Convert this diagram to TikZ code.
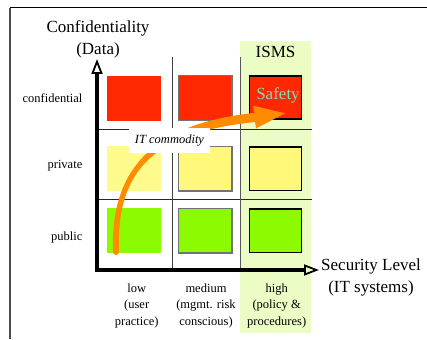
\documentclass[tikz,border=0pt]{standalone}
\usepackage{fontspec}
\setmainfont{Liberation Serif}
\usetikzlibrary{arrows.meta}

\definecolor{cellred}{RGB}{255,40,0}
\definecolor{cellyellowA}{RGB}{255,250,140}
\definecolor{cellyellow}{RGB}{255,248,122}
\definecolor{cellgreen}{RGB}{140,250,0}
\definecolor{ismsbg}{RGB}{235,252,196}
\definecolor{flow}{RGB}{255,140,0}
\definecolor{safetytxt}{RGB}{125,222,190}

\begin{document}
\begin{tikzpicture}[x=1pt,y=-1pt,
  bigtxt/.style={font=\fontsize{17}{22}\selectfont, inner sep=0pt, align=center},
  smalltxt/.style={font=\fontsize{12.5}{16.5}\selectfont, inner sep=0pt, align=center},
  rowlabel/.style={font=\fontsize{12.5}{15}\selectfont, inner sep=0pt, anchor=base east},
  cellA/.style={inner sep=0pt, minimum width=54pt, minimum height=45pt},
  cellB/.style={cellA, draw=black!55, line width=1.3pt, minimum width=53.7pt, minimum height=44.7pt},
  cellC/.style={cellA, draw=black, line width=1.6pt, minimum width=52pt, minimum height=43.5pt},
  gridline/.style={line width=0.9pt, black!85},
  axis/.style={line width=3.5pt, line join=miter,
    arrows={Triangle[open,length=15pt,width=11pt,line width=1.8pt]-Triangle[open,length=15pt,width=11pt,line width=1.8pt]}},
  tag/.style={fill=white, inner sep=0pt, minimum width=81pt, minimum height=25pt,
    font=\fontsize{12.5}{15}\selectfont\itshape},
]
\useasboundingbox (0,0) rectangle (427,339);

% slide frame
\draw[black!70, line width=1.4pt] (10,339) -- (10,8);
\draw[black, line width=1pt] (10,8) -- (427,8);

% ISMS column background
\fill[ismsbg] (240,41) rectangle (311,333);

% grid lines
\draw[gridline] (97,129) -- (312,129);
\draw[gridline] (97,199.5) -- (312,199.5);
\draw[gridline, black!75] (172,57) -- (172,270);
\draw[gridline, black!65] (240.5,57) -- (240.5,270);

% cells: low / medium / high
\node[cellA, fill=cellred]     (lc) at (134.2,98.3)  {};
\node[cellA, fill=cellyellowA] (lp) at (134.2,168.5) {};
\node[cellA, fill=cellgreen]   (lu) at (134.2,230.5) {};
\node[cellB, fill=cellred]     (mc) at (205.2,98.1)  {};
\node[cellB, fill=cellyellow]  (mp) at (205.2,168.5) {};
\node[cellB, fill=cellgreen]   (mu) at (205.2,230.5) {};
\node[cellC, fill=cellred]     (hc) at (275.5,97.5)  {};
\node[cellC, fill=cellyellow]  (hp) at (275.5,168.8) {};
\node[cellC, fill=cellgreen]   (hu) at (275.5,230.7) {};

% curved flow arrow, widening towards its head
\fill[flow] (113,252) .. controls (110,168) and (154.4,123.5) .. (253.9,113)
  -- (253,105.6) -- (285,113.3) -- (256,128.4) -- (255.1,122)
  .. controls (155.6,132.5) and (116,168) .. (119,252)
  arc[start angle=0, end angle=180, radius=3] -- cycle;

\node[tag] (itc) at (169.5,140.5) {IT commodity};

% axes
\coordinate (ytop) at (97,59);
\coordinate (orig) at (97,270);
\coordinate (xend) at (319,270);
\draw[axis] (ytop) -- (orig) -- (xend);

% labels
\node[bigtxt] (yl) at (98,39.3) {Confidentiality\\(Data)};
\node[bigtxt] (xl) at (371,277.5) {Security Level\\(IT systems)};
\node[bigtxt, anchor=base] (isms) at (275.5,57.7) {ISMS};
\node[bigtxt, anchor=base, text=safetytxt] (saf) at (278,99.3) {Safety};

\node[rowlabel] (rc) at (82.5,102.3) {confidential};
\node[rowlabel] (rp) at (82.5,168.3) {private};
\node[rowlabel] (ru) at (82.5,240)   {public};

\node[smalltxt] (cl) at (136.7,305.6) {low\\(user\\practice)};
\node[smalltxt] (cm) at (206,305.6)   {medium\\(mgmt. risk\\conscious)};
\node[smalltxt] (ch) at (276.7,305.6) {high\\(policy \&\\procedures)};
\end{tikzpicture}
\end{document}
